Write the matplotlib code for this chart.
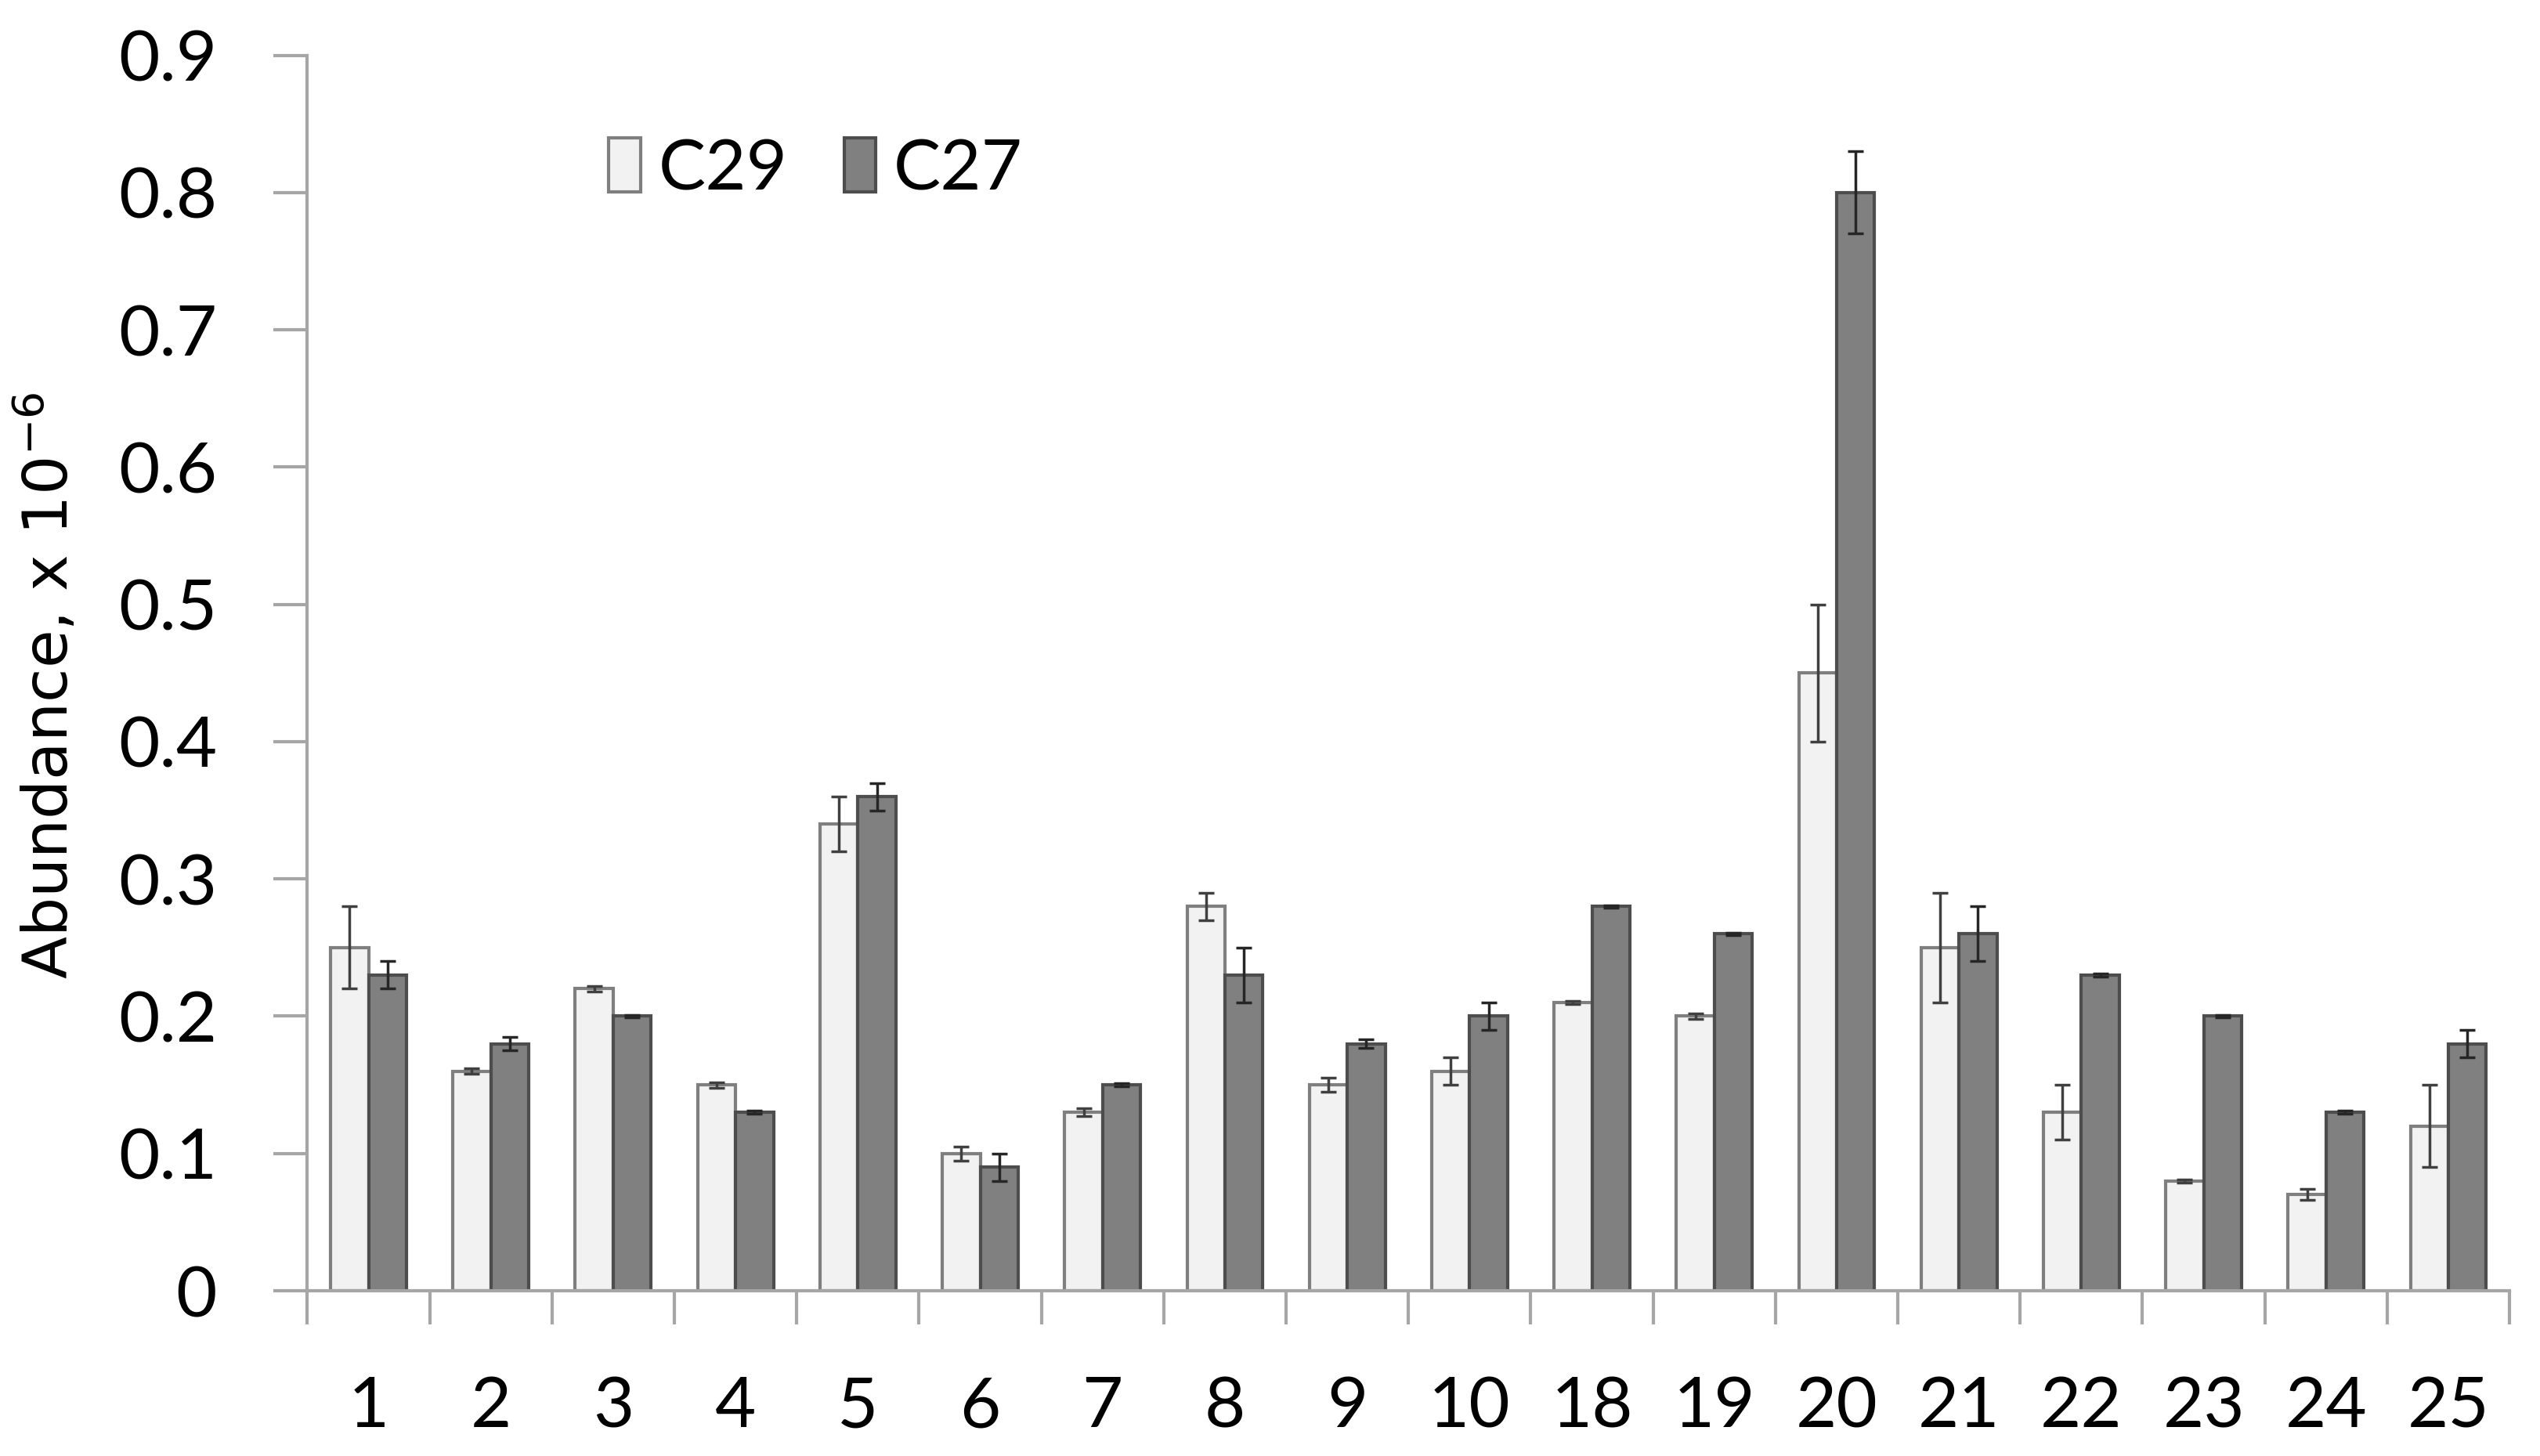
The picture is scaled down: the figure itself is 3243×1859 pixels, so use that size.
import numpy as np
import matplotlib
matplotlib.use("Agg")
import matplotlib.pyplot as plt
from matplotlib.patches import Patch

plt.rcParams['font.family'] = ['Lato', 'DejaVu Sans']
plt.rcParams['mathtext.fontset'] = 'custom'
plt.rcParams['mathtext.rm'] = 'DejaVu Sans'
plt.rcParams['mathtext.it'] = 'DejaVu Sans'

categories = ['1', '2', '3', '4', '5', '6', '7', '8', '9', '10',
              '18', '19', '20', '21', '22', '23', '24', '25']
c29 = [0.25, 0.16, 0.22, 0.15, 0.34, 0.10, 0.13, 0.28, 0.15, 0.16,
       0.21, 0.20, 0.45, 0.25, 0.13, 0.08, 0.07, 0.12]
c29_err = [0.03, 0.002, 0.002, 0.002, 0.02, 0.005, 0.003, 0.01, 0.005, 0.01,
           0.001, 0.002, 0.05, 0.04, 0.02, 0.001, 0.004, 0.03]
c27 = [0.23, 0.18, 0.20, 0.13, 0.36, 0.09, 0.15, 0.23, 0.18, 0.20,
       0.28, 0.26, 0.80, 0.26, 0.23, 0.20, 0.13, 0.18]
c27_err = [0.01, 0.005, 0.001, 0.001, 0.01, 0.01, 0.001, 0.02, 0.003, 0.01,
           0.001, 0.001, 0.03, 0.02, 0.001, 0.001, 0.001, 0.01]
yticks = [0, 0.1, 0.2, 0.3, 0.4, 0.5, 0.6, 0.7, 0.8, 0.9]
ytick_labels = ['0', '0.1', '0.2', '0.3', '0.4', '0.5', '0.6', '0.7', '0.8', '0.9']

fig = plt.figure(figsize=(32.43, 18.59), dpi=100)
ax = fig.add_axes([0.121, 0.1135, 0.867, 0.8485])

x = np.arange(len(categories))
w = 0.31
axis_grey = '#a6a6a6'

ax.bar(x - w / 2, c29, w, color='#f2f2f2', edgecolor='#7f7f7f', linewidth=3,
       yerr=c29_err, capsize=7, error_kw=dict(ecolor='#404040', elinewidth=2.5, capthick=2.5))
ax.bar(x + w / 2, c27, w, color='#808080', edgecolor='#4d4d4d', linewidth=3,
       yerr=c27_err, capsize=7, error_kw=dict(ecolor='#262626', elinewidth=2.5, capthick=2.5))

ax.set_xlim(-0.5, len(categories) - 0.5)
ax.set_ylim(0, 0.9)
ax.set_yticks(yticks)
ax.set_yticklabels(ytick_labels)
ax.set_xticks(x)
ax.set_xticklabels(categories)
ax.set_xticks(np.arange(len(categories) + 1) - 0.5, minor=True)

ax.tick_params(axis='y', labelsize=65, length=31, width=3, color=axis_grey, pad=52)
ax.tick_params(axis='x', which='major', labelsize=65, length=0, pad=78)
ax.tick_params(axis='x', which='minor', length=31, width=3, color=axis_grey)

for s in ['top', 'right']:
    ax.spines[s].set_visible(False)
for s in ['left', 'bottom']:
    ax.spines[s].set_color(axis_grey)
    ax.spines[s].set_linewidth(3)

ax.set_ylabel('Abundance, x 10$^{-6}$', fontsize=57, family='DejaVu Sans')
ax.yaxis.set_label_coords(-0.103, 0.49)

legend_elements = [
    Patch(facecolor='#f2f2f2', edgecolor='#7f7f7f', linewidth=3, label='C29'),
    Patch(facecolor='#808080', edgecolor='#4d4d4d', linewidth=3, label='C27'),
]
ax.legend(handles=legend_elements, loc='center left', bbox_to_anchor=(0.108, 0.907),
          ncol=2, frameon=False, fontsize=65, handlelength=0.45, handleheight=0.8,
          handletextpad=0.25, columnspacing=0.8)

plt.savefig('out.png', dpi=100)
